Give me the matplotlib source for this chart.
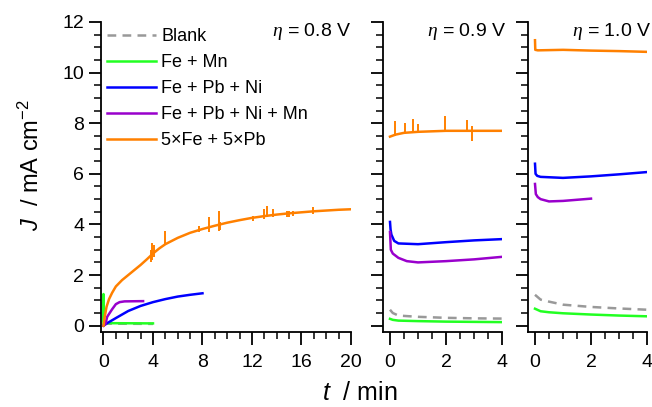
import numpy as np
import matplotlib
matplotlib.use("Agg")
import matplotlib.pyplot as plt
from matplotlib.ticker import MultipleLocator

plt.rcParams['font.family'] = ['Liberation Sans', 'DejaVu Sans']
plt.rcParams['mathtext.fontset'] = 'custom'
plt.rcParams['mathtext.rm'] = 'Liberation Sans'
plt.rcParams['mathtext.it'] = 'Liberation Sans:italic'
plt.rcParams['mathtext.bf'] = 'Liberation Serif:italic'

# colours per electrolyte
names = ['Blank', 'Fe + Mn', 'Fe + Pb + Ni', 'Fe + Pb + Ni + Mn', '5×Fe + 5×Pb']
colors = ['#999999', '#22ff22', '#0000ff', '#9900cc', '#ff8000']

# ---- eta = 0.8 V (t in min, J in mA cm-2)
blank_08_t = [0, 0.1, 4]
blank_08_j = [0.12, 0.08, 0.07]
femn_08_t = [0, 0, 0.05, 0.2, 4]
femn_08_j = [0, 1.25, 0.15, 0.1, 0.09]
fepbni_08_t = [0, 0.3, 1, 2, 3, 4, 5, 6, 7, 8]
fepbni_08_j = [0, 0.1, 0.3, 0.58, 0.78, 0.93, 1.05, 1.15, 1.22, 1.28]
fepbnimn_08_t = [0, 0.15, 0.3, 0.5, 0.7, 1.0, 1.3, 1.7, 3.2]
fepbnimn_08_j = [0, 0.05, 0.35, 0.5, 0.65, 0.85, 0.93, 0.96, 0.97]
fe5pb5_08_t = [0, 0.1, 0.25, 0.45, 0.7, 1.0, 1.5, 2.0, 2.5, 3.0, 3.5, 4.0, 4.5, 5.0,
               6, 7, 8, 9, 10, 11, 12, 13, 14, 15, 16, 17, 18, 19, 20]
fe5pb5_08_j = [0, 0.35, 0.75, 1.05, 1.3, 1.55, 1.8, 2.0, 2.2, 2.4, 2.62, 2.85, 3.05, 3.22,
               3.47, 3.67, 3.82, 3.95, 4.07, 4.17, 4.26, 4.33, 4.39, 4.44, 4.48, 4.52, 4.55, 4.58, 4.6]
spike_08_t = [3.8, 3.95, 4.1, 5.0, 7.7, 8.5, 9.3, 9.45, 12.1, 13.0, 13.2, 13.7, 14.8, 15.0, 15.3, 16.9]
spike_08_top = [3.0, 3.28, 3.2, 3.73, 3.95, 4.3, 4.52, 4.1, 4.35, 4.6, 4.74, 4.6, 4.55, 4.55, 4.55, 4.7]
spike_08_bot = [2.5, 2.6, 2.7, 3.2, 3.7, 3.7, 3.75, 3.8, 4.15, 4.2, 4.3, 4.3, 4.3, 4.3, 4.35, 4.4]

# ---- eta = 0.9 V
blank_09_t = [0, 0.1, 0.3, 1, 2, 3, 4]
blank_09_j = [0.63, 0.5, 0.4, 0.35, 0.31, 0.29, 0.28]
femn_09_t = [0, 0.1, 0.3, 1, 2, 3, 4]
femn_09_j = [0.27, 0.23, 0.2, 0.18, 0.16, 0.15, 0.14]
fepbni_09_t = [0, 0.02, 0.05, 0.15, 0.3, 1, 2, 3, 4]
fepbni_09_j = [4.1, 3.8, 3.6, 3.35, 3.25, 3.22, 3.3, 3.37, 3.42]
fepbnimn_09_t = [0, 0.03, 0.1, 0.3, 0.6, 1, 2, 3, 4]
fepbnimn_09_j = [3.7, 3.0, 2.85, 2.68, 2.55, 2.5, 2.55, 2.62, 2.72]
fe5pb5_09_t = [0, 0.2, 0.5, 1, 2, 3, 4]
fe5pb5_09_j = [7.47, 7.55, 7.62, 7.66, 7.7, 7.7, 7.7]
spike_09_t = [0.18, 0.54, 0.83, 1.0, 1.96, 2.74, 2.93]
spike_09_top = [8.07, 8.0, 8.17, 7.95, 8.27, 8.14, 7.88]
spike_09_bot = [7.5, 7.6, 7.6, 7.6, 7.65, 7.65, 7.28]

# ---- eta = 1.0 V
blank_10_t = [0, 0.2, 0.5, 1, 2, 3, 4]
blank_10_j = [1.22, 1.03, 0.95, 0.83, 0.74, 0.68, 0.63]
femn_10_t = [0, 0.2, 0.5, 1, 2, 3, 4]
femn_10_j = [0.67, 0.57, 0.53, 0.49, 0.44, 0.4, 0.37]
fepbni_10_t = [0, 0.02, 0.08, 0.2, 1, 2, 3, 4]
fepbni_10_j = [6.4, 6.0, 5.92, 5.88, 5.84, 5.9, 5.98, 6.07]
fepbnimn_10_t = [0, 0.03, 0.1, 0.2, 0.5, 1, 2]
fepbnimn_10_j = [5.6, 5.2, 5.08, 5.0, 4.91, 4.93, 5.02]
fe5pb5_10_t = [0, 0.01, 0.1, 1, 2, 3, 4]
fe5pb5_10_j = [11.28, 10.9, 10.88, 10.9, 10.87, 10.85, 10.82]

panels = [
    dict(label='0.8', xmax=20, xmajor=4, xminor=1,
         curves=[(blank_08_t, blank_08_j), (femn_08_t, femn_08_j), (fepbni_08_t, fepbni_08_j),
                 (fepbnimn_08_t, fepbnimn_08_j), (fe5pb5_08_t, fe5pb5_08_j)],
         spikes=(spike_08_t, spike_08_bot, spike_08_top)),
    dict(label='0.9', xmax=4, xmajor=2, xminor=0.5,
         curves=[(blank_09_t, blank_09_j), (femn_09_t, femn_09_j), (fepbni_09_t, fepbni_09_j),
                 (fepbnimn_09_t, fepbnimn_09_j), (fe5pb5_09_t, fe5pb5_09_j)],
         spikes=(spike_09_t, spike_09_bot, spike_09_top)),
    dict(label='1.0', xmax=4, xmajor=2, xminor=0.5,
         curves=[(blank_10_t, blank_10_j), (femn_10_t, femn_10_j), (fepbni_10_t, fepbni_10_j),
                 (fepbnimn_10_t, fepbnimn_10_j), (fe5pb5_10_t, fe5pb5_10_j)],
         spikes=None),
]

W, H = 652, 407
fig = plt.figure(figsize=(W / 100, H / 100), dpi=100)
boxes = [(101, 351), (383, 502), (528, 647)]
y_top, y_bot = 22, 332

for i, (p, (x0, x1)) in enumerate(zip(panels, boxes)):
    ax = fig.add_axes([x0 / W, 1 - y_bot / H, (x1 - x0) / W, (y_bot - y_top) / H])
    lines = []
    for k, (t, j) in enumerate(p['curves']):
        ls = '--' if k == 0 else '-'
        ln, = ax.plot(t, j, color=colors[k], lw=1.8, ls=ls, label=names[k],
                      dashes=(3.5, 2.5) if k == 0 else (None, None), zorder=2 + k)
        lines.append(ln)
    if p['spikes'] is not None:
        st, sb, stop = p['spikes']
        ax.vlines(st, sb, stop, color=colors[4], lw=1.4, zorder=7)
    xmin = -0.2 if p['xmax'] == 20 else -0.25
    ax.set_xlim(xmin, p['xmax'])
    ax.set_ylim(-0.25, 12)
    ax.xaxis.set_major_locator(MultipleLocator(p['xmajor']))
    ax.xaxis.set_minor_locator(MultipleLocator(p['xminor']))
    ax.yaxis.set_major_locator(MultipleLocator(2))
    ax.yaxis.set_minor_locator(MultipleLocator(0.5))
    for s in ['top', 'right']:
        ax.spines[s].set_visible(False)
    for s in ['left', 'bottom']:
        ax.spines[s].set_linewidth(1.3)
    ax.tick_params(which='major', direction='out', length=9, width=1.3, labelsize=14)
    ax.tick_params(which='minor', direction='out', length=5, width=1.1)
    ax.tick_params(axis='x', which='major', pad=7)
    ax.tick_params(axis='y', which='major', pad=3)
    if i > 0:
        ax.tick_params(axis='y', labelleft=False)
    ax.text(1.0 if i == 0 else 1.04, 0.968, r'$\mathbf{\eta}$ = %s V' % p['label'],
            transform=ax.transAxes, ha='right', va='center', fontsize=14)
    if i == 0:
        ax.legend(handles=lines, loc='upper left', bbox_to_anchor=(0.024, 0.98), frameon=False,
                  fontsize=13, handlelength=2.7, handletextpad=0.3, labelspacing=0.5,
                  borderpad=0, borderaxespad=0)

fig.text(31 / W, 1 - 165 / H, r'$J$  / mA cm$^{-2}$', rotation=90, ha='center', va='center', fontsize=17)
fig.text(360 / W, 1 - 400 / H, r'$t$  / min', ha='center', va='baseline', fontsize=18)

fig.savefig('out.png', dpi=100)
